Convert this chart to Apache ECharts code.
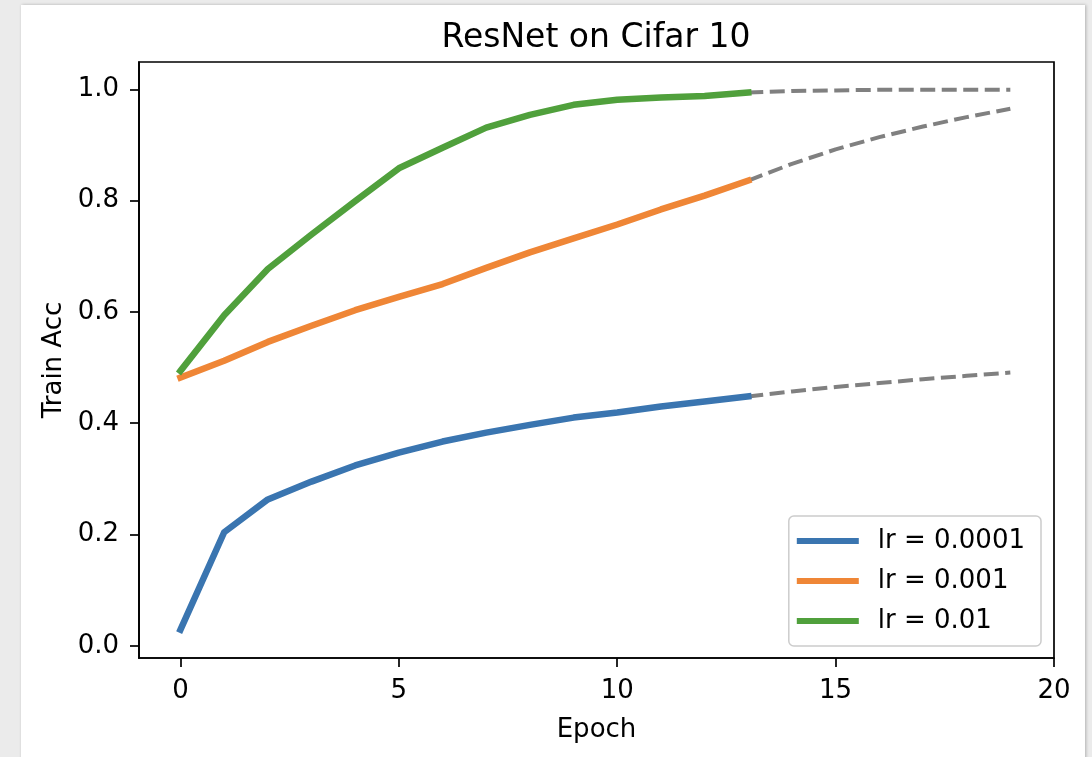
<!DOCTYPE html>
<html>
<head>
<meta charset="utf-8">
<script src="https://cdn.jsdelivr.net/npm/echarts@6/dist/echarts.min.js"></script>
<style>
  html, body { margin: 0; padding: 0; background: #ebebeb; }
  #chart { width: 1092px; height: 757px; }
</style>
</head>
<body>
<div id="chart"></div>
<script>
const title = 'ResNet on Cifar 10';
const xName = 'Epoch';
const yName = 'Train Acc';
const seriesNames = ['lr = 0.0001', 'lr = 0.001', 'lr = 0.01'];
const seriesColors = ['#3a75b0', '#ef8636', '#50a03c'];

const epochs = [0, 1, 2, 3, 4, 5, 6, 7, 8, 9, 10, 11, 12, 13];
const accLr0001 = [0.029, 0.204, 0.263, 0.295, 0.324, 0.347, 0.367, 0.383, 0.397, 0.410, 0.419, 0.430, 0.439, 0.448];
const accLr001  = [0.482, 0.512, 0.546, 0.575, 0.603, 0.627, 0.650, 0.679, 0.707, 0.732, 0.757, 0.784, 0.809, 0.836];
const accLr01   = [0.494, 0.594, 0.677, 0.739, 0.799, 0.858, 0.895, 0.931, 0.954, 0.972, 0.981, 0.985, 0.988, 0.994];

const extEpochs = [13, 14, 15, 16, 17, 18, 19];
const extLr0001 = [0.448, 0.457, 0.465, 0.472, 0.479, 0.485, 0.491];
const extLr001  = [0.836, 0.866, 0.892, 0.914, 0.933, 0.950, 0.965];
const extLr01   = [0.994, 0.997, 0.998, 0.999, 0.999, 0.999, 0.999];

const xTicks = [0, 5, 10, 15, 20];
const yTicks = [0.0, 0.2, 0.4, 0.6, 0.8, 1.0];

const pairs = (xs, ys) => xs.map((x, i) => [x, ys[i]]);
const FONT = 'DejaVu Sans';

const solid = [accLr0001, accLr001, accLr01].map((ys, i) => ({
  name: seriesNames[i],
  type: 'line',
  data: pairs(epochs, ys),
  showSymbol: false,
  symbol: 'none',
  z: 5,
  color: seriesColors[i],
  lineStyle: { width: 6.5, color: seriesColors[i], cap: 'square', join: 'round' },
  animation: false
}));
const dashed = [extLr0001, extLr001, extLr01].map((ys) => ({
  type: 'line',
  data: pairs(extEpochs, ys),
  showSymbol: false,
  symbol: 'none',
  z: 3,
  lineStyle: { width: 4, color: '#808080', type: [15, 6.5], cap: 'butt' },
  animation: false
}));

const chart = echarts.init(document.getElementById('chart'), null, { renderer: 'canvas' });
chart.setOption({
  backgroundColor: '#ebebeb',
  animation: false,
  graphic: [{
    type: 'rect', z: -10, silent: true,
    shape: { x: 21, y: 5, width: 1064, height: 760 },
    style: { fill: '#ffffff', shadowColor: 'rgba(0,0,0,0.25)', shadowBlur: 3, shadowOffsetX: 1 }
  }],
  title: {
    text: title, left: 596, textAlign: 'center', top: 22, padding: 0,
    textStyle: { fontFamily: FONT, fontSize: 33, fontWeight: 'normal', color: '#000' }
  },
  grid: {
    left: 139, top: 62, right: 38, bottom: 99,
    show: true, borderColor: '#000', borderWidth: 1.7, backgroundColor: 'transparent'
  },
  legend: {
    data: seriesNames,
    orient: 'vertical',
    right: 51, top: 516,
    icon: 'rect', itemWidth: 62, itemHeight: 6, itemGap: 10,
    padding: [10, 16, 10, 8],
    backgroundColor: '#ffffff',
    borderColor: '#cccccc', borderWidth: 1.5, borderRadius: 5,
    textStyle: { fontFamily: FONT, fontSize: 26, color: '#000', lineHeight: 30, padding: [0, 0, 0, 14] }
  },
  xAxis: {
    type: 'value', min: -0.95, max: 20,
    name: xName, nameLocation: 'middle', nameGap: 59,
    nameTextStyle: { fontFamily: FONT, fontSize: 26, color: '#000' },
    axisLine: { show: true, onZero: false, lineStyle: { color: '#000', width: 1.7 } },
    axisTick: { show: true, inside: false, length: 9, customValues: xTicks, lineStyle: { color: '#000', width: 1.7 } },
    axisLabel: { customValues: xTicks, margin: 20, fontFamily: FONT, fontSize: 26, color: '#000' },
    splitLine: { show: false }
  },
  yAxis: {
    type: 'value', min: -0.022, max: 1.049,
    name: yName, nameLocation: 'middle', nameGap: 72, nameRotate: 90,
    nameTextStyle: { fontFamily: FONT, fontSize: 26, color: '#000' },
    axisLine: { show: true, onZero: false, lineStyle: { color: '#000', width: 1.7 } },
    axisTick: { show: true, inside: false, length: 9, customValues: yTicks, lineStyle: { color: '#000', width: 1.7 } },
    axisLabel: { customValues: yTicks, margin: 20, fontFamily: FONT, fontSize: 26, color: '#000',
      formatter: (v) => Number(v).toFixed(1) },
    splitLine: { show: false }
  },
  series: [...dashed, ...solid]
});
</script>
</body>
</html>
